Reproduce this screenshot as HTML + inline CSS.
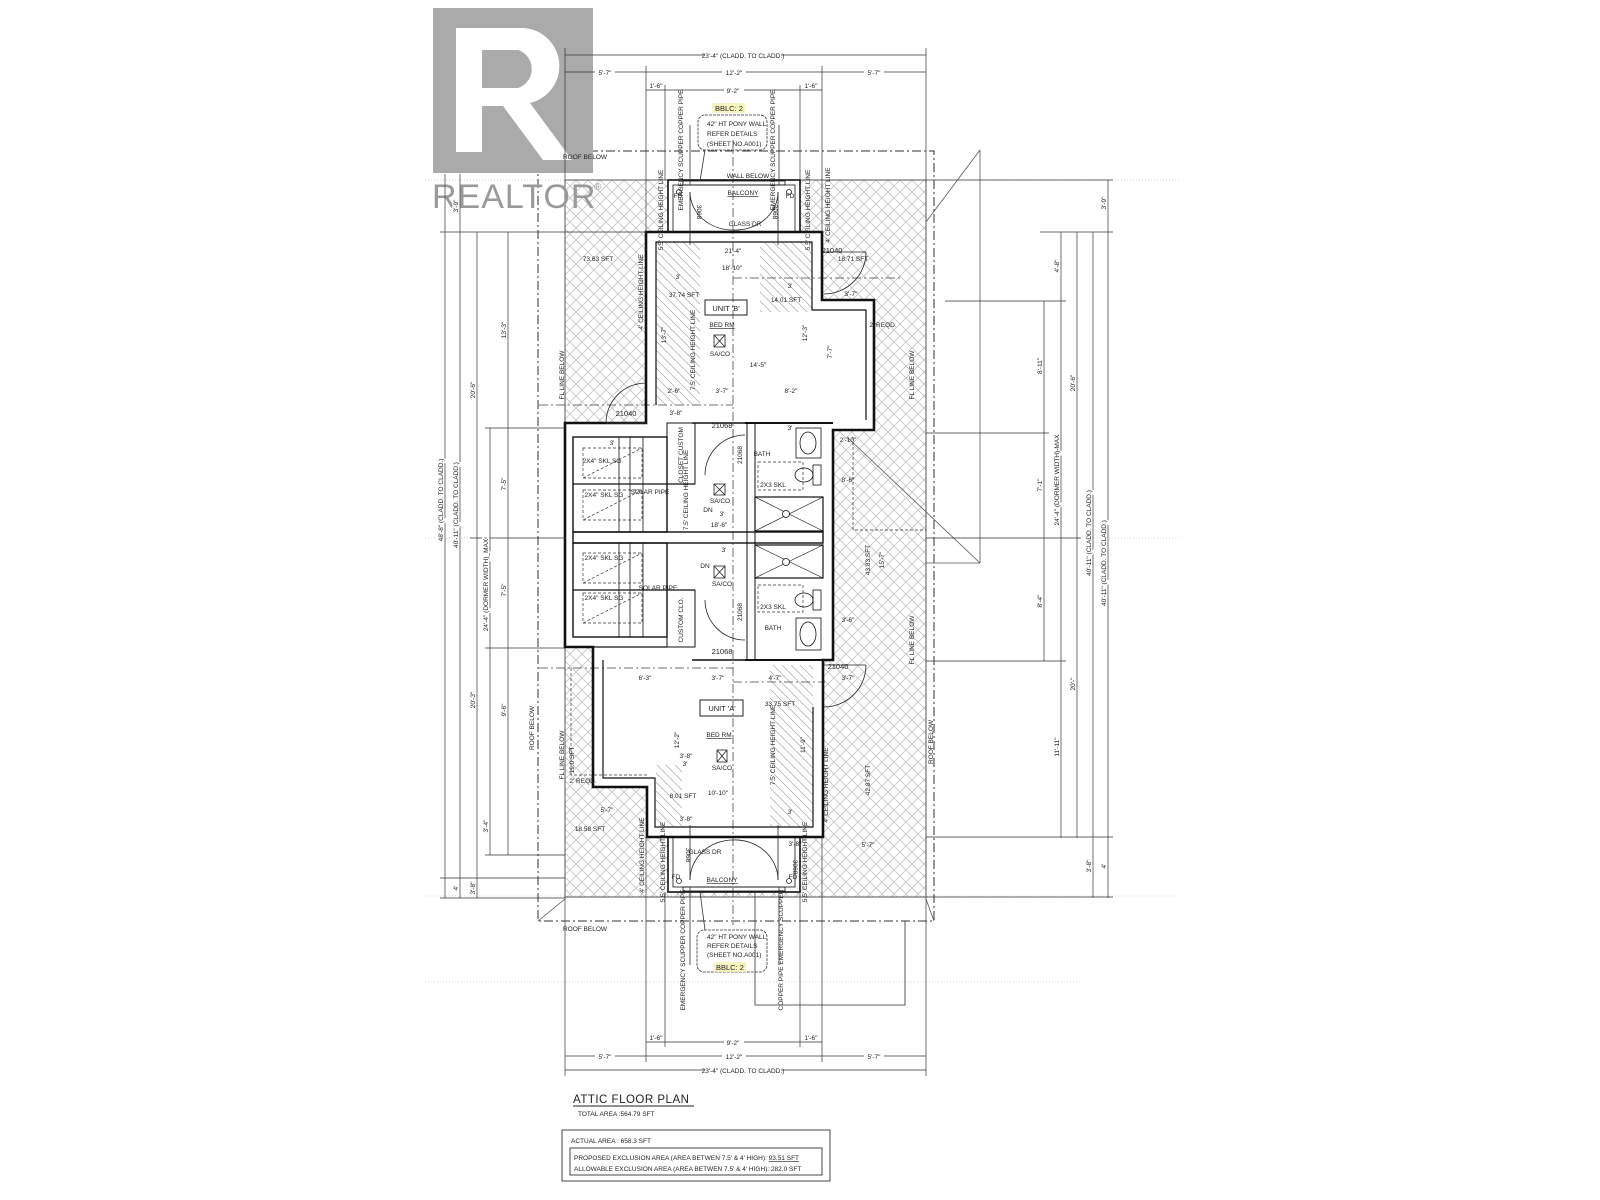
<!DOCTYPE html>
<html><head><meta charset="utf-8"><style>
html,body{margin:0;padding:0;background:#fff;}
svg{display:block;}
text{font-family:"Liberation Sans",sans-serif;fill:#222;}
.s{font-size:6.5px;}
.m{font-size:7.5px;}
</style></head><body>
<svg width="1600" height="1200" viewBox="0 0 1600 1200" xmlns="http://www.w3.org/2000/svg">
<defs>
<pattern id="xh" width="12" height="12" patternUnits="userSpaceOnUse">
<path d="M0,0 L12,12 M12,0 L0,12" stroke="#b8b8b8" stroke-width="0.7"/>
</pattern>
<pattern id="sh" width="9" height="9" patternUnits="userSpaceOnUse">
<path d="M0,0 L9,9 M-1,8 L1,10 M8,-1 L10,1" stroke="#aaa" stroke-width="0.7"/>
</pattern>
</defs>
<rect width="1600" height="1200" fill="#fff"/>

<g stroke="#ccc" stroke-width="0.8" stroke-dasharray="1 2">
<line x1="425" y1="180" x2="1180" y2="180"/>
<line x1="425" y1="538" x2="1180" y2="538"/>
<line x1="425" y1="896" x2="1180" y2="896"/>
<line x1="425" y1="982" x2="1080" y2="982"/>
</g>

<rect x="565" y="180" width="361" height="717" fill="url(#xh)" stroke="#555" stroke-width="1"/>
<polygon points="646,232 822,232 822,300 874,300 874,430 833,430 833,660 823,660 823,837 647,837 647,787 593,787 593,647 565,647 565,423 646,423" fill="#fff"/>
<rect x="668" y="180" width="132" height="52" fill="#fff"/>
<rect x="668" y="837" width="132" height="55" fill="#fff"/>

<g fill="url(#sh)">
<rect x="656" y="242" width="44" height="163"/>
<rect x="760" y="242" width="52" height="70"/>
<rect x="656" y="765" width="26" height="62"/>
<rect x="770" y="665" width="43" height="162"/>
</g>

<rect x="538" y="151" width="396" height="770" fill="none" stroke="#333" stroke-width="1" stroke-dasharray="9 3 2 3"/>
<line x1="733" y1="140" x2="733" y2="925" stroke="#444" stroke-width="0.8" stroke-dasharray="9 3 2 3"/>
<line x1="733" y1="278" x2="900" y2="278" stroke="#444" stroke-width="0.8" stroke-dasharray="9 3 2 3"/>
<line x1="539" y1="405" x2="733" y2="405" stroke="#444" stroke-width="0.8" stroke-dasharray="9 3 2 3"/>
<line x1="539" y1="668" x2="733" y2="668" stroke="#444" stroke-width="0.8" stroke-dasharray="9 3 2 3"/>
<line x1="733" y1="682" x2="825" y2="682" stroke="#444" stroke-width="0.8" stroke-dasharray="9 3 2 3"/>

<g stroke="#555" stroke-width="0.8" fill="none">
<line x1="926" y1="222" x2="980" y2="150"/>
<line x1="980" y1="150" x2="980" y2="563"/>
<line x1="926" y1="563" x2="980" y2="563"/>
<line x1="847" y1="437" x2="980" y2="563"/>
<line x1="538" y1="921" x2="565" y2="899"/>
<line x1="934" y1="921" x2="926" y2="899"/>
</g>

<g fill="none" stroke="#111">
<polygon points="646,232 822,232 822,300 874,300 874,430 833,430 833,660 823,660 823,837 647,837 647,787 593,787 593,647 565,647 565,423 646,423" stroke-width="2.6"/>
<polyline points="656,405 656,242 812,242 812,310 866,310 866,420" stroke-width="1.2"/>
<polyline points="603,660 603,778 655,778 655,827 813,827 813,707" stroke-width="1.2"/>
<rect x="668" y="180" width="132" height="52" stroke-width="1.6"/>
<rect x="673" y="185" width="122" height="47" stroke-width="0.8"/>
<rect x="668" y="837" width="132" height="55" stroke-width="1.6"/>
<rect x="673" y="837" width="122" height="50" stroke-width="0.8"/>
<rect x="683" y="181" width="102" height="4" stroke-width="0.8"/>
<rect x="683" y="887" width="102" height="4" stroke-width="0.8"/>
<rect x="573" y="437" width="94" height="95" stroke-width="1.4"/>
<rect x="573" y="543" width="94" height="94" stroke-width="1.4"/>
<rect x="573" y="532" width="250" height="11" stroke-width="1.4"/>
<line x1="619" y1="437" x2="619" y2="532" stroke-width="0.8"/>
<line x1="630" y1="437" x2="630" y2="532" stroke-width="0.8"/>
<line x1="643" y1="437" x2="643" y2="532" stroke-width="0.8"/>
<line x1="619" y1="543" x2="619" y2="637" stroke-width="0.8"/>
<line x1="630" y1="543" x2="630" y2="637" stroke-width="0.8"/>
<line x1="643" y1="543" x2="643" y2="637" stroke-width="0.8"/>
<line x1="573" y1="484" x2="695" y2="484" stroke-width="1.2"/>
<line x1="573" y1="590" x2="695" y2="590" stroke-width="1.2"/>
<rect x="667" y="423" width="28" height="61" stroke-width="1"/>
<rect x="667" y="590" width="28" height="57" stroke-width="1"/>
<line x1="565" y1="647" x2="667" y2="647" stroke-width="1.2"/>
<rect x="747" y="423" width="8" height="237" stroke-width="1"/>
<line x1="745" y1="423" x2="833" y2="423" stroke-width="2"/>
<line x1="745" y1="660" x2="823" y2="660" stroke-width="2"/>
<line x1="692" y1="423" x2="745" y2="423" stroke-width="1.5"/>
<line x1="692" y1="660" x2="745" y2="660" stroke-width="1.5"/>
<rect x="755" y="497" width="68" height="34" stroke-width="1.2"/>
<path d="M755,497 L823,531 M823,497 L755,531" stroke-width="0.6"/>
<circle cx="786" cy="514" r="3.5" fill="#fff" stroke-width="0.8"/>
<rect x="755" y="545" width="68" height="33" stroke-width="1.2"/>
<path d="M755,545 L823,578 M823,545 L755,578" stroke-width="0.6"/>
<circle cx="786" cy="562" r="3.5" fill="#fff" stroke-width="0.8"/>
<rect x="796" y="428" width="25" height="30" stroke-width="0.8"/>
<ellipse cx="808" cy="443" rx="8" ry="11" stroke-width="0.8"/>
<rect x="796" y="618" width="25" height="32" stroke-width="0.8"/>
<ellipse cx="808" cy="634" rx="8" ry="12" stroke-width="0.8"/>
<ellipse cx="804" cy="475" rx="9" ry="7" stroke-width="0.8"/>
<rect x="813" y="465" width="8" height="20" stroke-width="0.8"/>
<ellipse cx="804" cy="600" rx="9" ry="7" stroke-width="0.8"/>
<rect x="813" y="590" width="8" height="20" stroke-width="0.8"/>
</g>
<g fill="none" stroke="#333" stroke-width="0.7" stroke-dasharray="3 2">
<rect x="583" y="448" width="59" height="30"/>
<rect x="583" y="490" width="59" height="30"/>
<rect x="583" y="553" width="59" height="30"/>
<rect x="583" y="593" width="59" height="30"/>
<rect x="758" y="462" width="45" height="28"/>
<rect x="758" y="585" width="45" height="27"/>
<path d="M583,478 L642,448 M583,520 L642,490 M583,583 L642,553 M583,623 L642,593"/>
<polyline points="571,668 571,775 647,775"/>
<polyline points="853,437 853,530 926,530"/>
</g>

<g fill="none" stroke="#222" stroke-width="0.8">
<path d="M606,423 A40,40 0 0 1 646,383"/>
<line x1="606" y1="423" x2="646" y2="423" stroke-width="2"/>
<path d="M822,252 L866,252 M866,252 A42,42 0 0 1 824,294"/>
<path d="M823,665 L866,665 M866,665 A42,42 0 0 1 824,707"/>
<path d="M745,435 A40,40 0 0 0 705,475"/>
<path d="M745,640 A40,40 0 0 1 705,600"/>
<path d="M690,192 A43,38 0 0 0 733,230"/>
<path d="M778,192 A43,38 0 0 1 733,230"/>
<path d="M690,880 A43,40 0 0 1 733,840"/>
<path d="M778,880 A43,40 0 0 0 733,840"/>
<line x1="690" y1="192" x2="690" y2="245"/>
<line x1="778" y1="192" x2="778" y2="245"/>
<line x1="690" y1="825" x2="690" y2="880"/>
<line x1="778" y1="825" x2="778" y2="880"/>
<circle cx="679" cy="192" r="2.5"/><circle cx="789" cy="192" r="2.5"/>
<circle cx="679" cy="881" r="2.5"/><circle cx="789" cy="881" r="2.5"/>
<rect x="714" y="484" width="11" height="11"/><path d="M714,484 L725,495 M725,484 L714,495"/>
<rect x="714" y="566" width="11" height="12"/><path d="M714,566 L725,578 M725,566 L714,578"/>
<rect x="714" y="335" width="11" height="12"/><path d="M714,335 L725,347 M725,335 L714,347"/>
<rect x="717" y="750" width="10" height="12"/><path d="M717,750 L727,762 M727,750 L717,762"/>
<rect x="705" y="300" width="42" height="15" stroke-width="1"/>
<rect x="700" y="700" width="43" height="16" stroke-width="1"/>
</g>

<g fill="none" stroke="#333" stroke-width="0.8">
<line x1="690" y1="125" x2="690" y2="185"/><line x1="779" y1="125" x2="779" y2="185"/>
<line x1="690" y1="887" x2="690" y2="965"/><line x1="779" y1="887" x2="779" y2="965"/>
<line x1="705" y1="150" x2="700" y2="181"/>
<line x1="705" y1="930" x2="700" y2="892"/>
<polyline points="755,892 755,1005 905,1005 905,921"/>
<rect x="698" y="115" width="69" height="35" rx="7" stroke-dasharray="3 1"/>
<rect x="697" y="930" width="70" height="42" rx="7" stroke-dasharray="3 1"/>
</g>
<rect x="712" y="103" width="33" height="10" fill="#f7f2b0" opacity="0.8"/>
<rect x="713" y="962" width="33" height="10" fill="#f7f2b0" opacity="0.8"/>
<text class="m" x="715" y="111">BBLC: 2</text>
<text class="m" x="716" y="970">BBLC: 2</text>
<text class="s" x="707" y="126">42" HT PONY WALL</text>
<text class="s" x="707" y="136">REFER DETAILS</text>
<text class="s" x="707" y="146">(SHEET NO.A001)</text>
<text class="s" x="707" y="939">42" HT PONY WALL</text>
<text class="s" x="707" y="948">REFER DETAILS</text>
<text class="s" x="707" y="957">(SHEET NO.A001)</text>

<rect x="433" y="8" width="160" height="165" fill="#aaa"/>
<path fill="#fff" fill-rule="evenodd" d="M456,28 H522 A38,38 0 0 1 530,103 L572,160 H543 L503,106 H482 V152 H456 Z M482,50 H518 A20,20 0 0 1 518,88 H482 Z"/>
<text x="432" y="208" style="font-size:34px;fill:#9a9a9a;letter-spacing:1px">REALTOR</text>
<text x="594" y="190" style="font-size:10px;fill:#9a9a9a">®</text>

<g stroke="#333" stroke-width="0.7">
<line x1="565" y1="55" x2="926" y2="55"/>
<line x1="565" y1="72" x2="926" y2="72"/>
<line x1="646" y1="90" x2="822" y2="90"/>
<line x1="565" y1="48" x2="565" y2="180"/>
<line x1="926" y1="48" x2="926" y2="180"/>
<line x1="646" y1="66" x2="646" y2="232"/>
<line x1="822" y1="66" x2="822" y2="232"/>
<line x1="665" y1="85" x2="665" y2="180"/>
<line x1="800" y1="85" x2="800" y2="180"/>
<line x1="565" y1="1076" x2="565" y2="897"/>
<line x1="926" y1="1076" x2="926" y2="897"/>
<line x1="646" y1="1062" x2="646" y2="837"/>
<line x1="822" y1="1062" x2="822" y2="837"/>
<line x1="665" y1="1047" x2="665" y2="892"/>
<line x1="800" y1="1047" x2="800" y2="892"/>
<line x1="565" y1="1070" x2="926" y2="1070"/>
<line x1="565" y1="1056" x2="926" y2="1056"/>
<line x1="646" y1="1042" x2="822" y2="1042"/>
</g>
<g class="s" text-anchor="middle">
<rect x="705" y="50" width="76" height="9" fill="#fff"/>
<text x="743" y="58">23'-4" (CLADD. TO CLADD.)</text>
<rect x="595" y="67" width="20" height="9" fill="#fff"/><text x="605" y="75">5'-7"</text>
<rect x="722" y="67" width="24" height="9" fill="#fff"/><text x="734" y="75">12'-2"</text>
<rect x="864" y="67" width="20" height="9" fill="#fff"/><text x="874" y="75">5'-7"</text>
<text x="656" y="88">1'-6"</text>
<rect x="724" y="85" width="20" height="9" fill="#fff"/><text x="733" y="93">9'-2"</text>
<text x="811" y="88">1'-6"</text>
<text x="656" y="1040">1'-6"</text>
<rect x="724" y="1037" width="20" height="9" fill="#fff"/><text x="733" y="1045">9'-2"</text>
<text x="811" y="1040">1'-6"</text>
<rect x="595" y="1051" width="20" height="9" fill="#fff"/><text x="605" y="1059">5'-7"</text>
<rect x="722" y="1051" width="24" height="9" fill="#fff"/><text x="734" y="1059">12'-2"</text>
<rect x="864" y="1051" width="20" height="9" fill="#fff"/><text x="874" y="1059">5'-7"</text>
<rect x="705" y="1065" width="76" height="9" fill="#fff"/>
<text x="743" y="1073">23'-4" (CLADD. TO CLADD.)</text>
</g>

<g stroke="#333" stroke-width="0.7">
<line x1="445" y1="174" x2="445" y2="898"/>
<line x1="460" y1="174" x2="460" y2="898"/>
<line x1="477" y1="232" x2="477" y2="898"/>
<line x1="490" y1="428" x2="490" y2="855"/>
<line x1="508" y1="232" x2="508" y2="855"/>
<line x1="440" y1="232" x2="646" y2="232"/>
<line x1="485" y1="428" x2="565" y2="428"/>
<line x1="470" y1="538" x2="565" y2="538"/>
<line x1="485" y1="648" x2="565" y2="648"/>
<line x1="485" y1="855" x2="565" y2="855"/>
<line x1="440" y1="878" x2="565" y2="878"/>
<line x1="440" y1="898" x2="565" y2="898"/>
<line x1="1040" y1="232" x2="1113" y2="232"/>
<line x1="926" y1="180" x2="1113" y2="180"/>
<line x1="945" y1="301" x2="1066" y2="301"/>
<line x1="926" y1="433" x2="1049" y2="433"/>
<line x1="926" y1="538" x2="1081" y2="538"/>
<line x1="926" y1="661" x2="1066" y2="661"/>
<line x1="926" y1="837" x2="1113" y2="837"/>
<line x1="926" y1="897" x2="1113" y2="897"/>
<line x1="1044" y1="301" x2="1044" y2="661"/>
<line x1="1061" y1="232" x2="1061" y2="838"/>
<line x1="1077" y1="232" x2="1077" y2="838"/>
<line x1="1093" y1="232" x2="1093" y2="898"/>
<line x1="1108" y1="180" x2="1108" y2="898"/>
</g>
<g class="s" text-anchor="middle" style="paint-order:stroke;stroke:#fff;stroke-width:3px">
<text transform="rotate(-90 458 206)" x="458" y="206">3'-9"</text>
<text transform="rotate(-90 443 500)" x="443" y="500">48'-8" (CLADD. TO CLADD.)</text>
<text transform="rotate(-90 458 505)" x="458" y="505">40'-11" (CLADD. TO CLADD.)</text>
<text transform="rotate(-90 475 390)" x="475" y="390">20'-6"</text>
<text transform="rotate(-90 475 700)" x="475" y="700">20'-3"</text>
<text transform="rotate(-90 488 585)" x="488" y="585">24'-4" (DORMER WIDTH)_MAX</text>
<text transform="rotate(-90 506 330)" x="506" y="330">13'-3"</text>
<text transform="rotate(-90 506 484)" x="506" y="484">7'-5"</text>
<text transform="rotate(-90 506 590)" x="506" y="590">7'-5"</text>
<text transform="rotate(-90 506 710)" x="506" y="710">9'-6"</text>
<text transform="rotate(-90 488 826)" x="488" y="826">3'-4"</text>
<text transform="rotate(-90 458 888)" x="458" y="888">4'</text>
<text transform="rotate(-90 475 888)" x="475" y="888">3'-8"</text>
<text transform="rotate(-90 1106 203)" x="1106" y="203">3'-9"</text>
<text transform="rotate(-90 1059 266)" x="1059" y="266">4'-8"</text>
<text transform="rotate(-90 1042 366)" x="1042" y="366">8'-11"</text>
<text transform="rotate(-90 1075 383)" x="1075" y="383">20'-6"</text>
<text transform="rotate(-90 1042 485)" x="1042" y="485">7'-1"</text>
<text transform="rotate(-90 1059 480)" x="1059" y="480">24'-4" (DORMER WIDTH)-MAX</text>
<text transform="rotate(-90 1091 533)" x="1091" y="533">40'-11" (CLADD. TO CLADD.)</text>
<text transform="rotate(-90 1106 563)" x="1106" y="563">40'-11" (CLADD. TO CLADD.)</text>
<text transform="rotate(-90 1042 601)" x="1042" y="601">8'-4"</text>
<text transform="rotate(-90 1075 684)" x="1075" y="684">20'-"</text>
<text transform="rotate(-90 1059 747)" x="1059" y="747">11'-11"</text>
<text transform="rotate(-90 1091 866)" x="1091" y="866">3'-8"</text>
<text transform="rotate(-90 1106 866)" x="1106" y="866">4'</text>
</g>

<g class="s" text-anchor="middle">
<text x="585" y="159">ROOF BELOW</text>
<text x="585" y="931">ROOF BELOW</text>
<text x="748" y="178">WALL BELOW</text>
<text x="743" y="195" style="text-decoration:underline">BALCONY</text>
<text x="745" y="226">GLASS DR</text>
<text x="722" y="882" style="text-decoration:underline">BALCONY</text>
<text x="705" y="854">GLASS DR</text>
<text transform="rotate(90 697 212)" x="697" y="212">3068</text>
<text transform="rotate(90 773 212)" x="773" y="212">3068</text>
<text transform="rotate(90 686 855)" x="686" y="855">3068</text>
<text transform="rotate(90 793 867)" x="793" y="867">3068</text>
<text transform="rotate(-90 663 210)" x="663" y="210">5.5' CEILING HEIGHT LINE</text>
<text transform="rotate(-90 810 210)" x="810" y="210">5.5' CEILING HEIGHT LINE</text>
<text transform="rotate(-90 830 205)" x="830" y="205">4' CEILING HEIGHT LINE</text>
<text transform="rotate(-90 643 292)" x="643" y="292">4' CEILING HEIGHT LINE</text>
<text transform="rotate(-90 695 350)" x="695" y="350">7.5' CEILING HEIGHT LINE</text>
<text transform="rotate(-90 688 490)" x="688" y="490">7.5' CEILING HEIGHT LINE</text>
<text transform="rotate(-90 775 745)" x="775" y="745">7.5' CEILING HEIGHT LINE</text>
<text transform="rotate(-90 828 785)" x="828" y="785">4' CEILING HEIGHT LINE</text>
<text transform="rotate(-90 644 855)" x="644" y="855">4' CEILING HEIGHT LINE</text>
<text transform="rotate(-90 665 862)" x="665" y="862">5.5' CEILING HEIGHT LINE</text>
<text transform="rotate(-90 807 862)" x="807" y="862">5.5' CEILING HEIGHT LINE</text>
<text transform="rotate(-90 564 375)" x="564" y="375">FL LINE BELOW</text>
<text transform="rotate(-90 914 375)" x="914" y="375">FL LINE BELOW</text>
<text transform="rotate(-90 564 755)" x="564" y="755">FL LINE BELOW</text>
<text transform="rotate(-90 914 640)" x="914" y="640">FL LINE BELOW</text>
<text transform="rotate(-90 534 728)" x="534" y="728">ROOF BELOW</text>
<text transform="rotate(-90 933 742)" x="933" y="742">ROOF BELOW</text>
<text transform="rotate(-90 870 780)" x="870" y="780">42.87 SFT</text>
<text transform="rotate(-90 870 560)" x="870" y="560">43.83 SFT</text>
<text transform="rotate(-90 884 560)" x="884" y="560">15'-7"</text>
<text transform="rotate(-90 683 455)" x="683" y="455">CLOSET CUSTOM</text>
<text transform="rotate(-90 683 620)" x="683" y="620">CUSTOM CLO.</text>
<text transform="rotate(-90 742 455)" x="742" y="455">21068</text>
<text transform="rotate(-90 742 612)" x="742" y="612">21068</text>
<text x="598" y="261">73.63 SFT</text>
<text x="733" y="253">21'-4"</text>
<text x="732" y="270">18'-10"</text>
<text x="678" y="279">3'</text>
<text x="684" y="297">37.74 SFT</text>
<text x="726" y="311" class="m">UNIT 'B'</text>
<text x="722" y="327" style="text-decoration:underline">BED RM</text>
<text x="720" y="356">SA/CO</text>
<text x="790" y="288">3'</text>
<text x="786" y="302">14.01 SFT</text>
<text x="832" y="253" class="m">21040</text>
<text x="853" y="261">18.71 SFT</text>
<text x="851" y="296">3'-7"</text>
<text x="883" y="327">2' REQD.</text>
<text x="758" y="367">14'-5"</text>
<text x="674" y="393">2'-6"</text>
<text x="722" y="393">3'-7"</text>
<text x="791" y="393">8'-2"</text>
<text transform="rotate(-90 666 335)" x="666" y="335">13'-7"</text>
<text transform="rotate(-90 807 333)" x="807" y="333">12'-3"</text>
<text transform="rotate(-90 832 352)" x="832" y="352">7'-7"</text>
<text x="626" y="416" class="m">21040</text>
<text x="676" y="415">3'-8"</text>
<text x="722" y="428" class="m">21068</text>
<text x="722" y="654" class="m">21068</text>
<text x="612" y="445">3'</text>
<text x="602" y="463">2X4" SKL SG</text>
<text x="604" y="497">2X4" SKL SG</text>
<text x="604" y="560">2X4" SKL SG</text>
<text x="604" y="600">2X4" SKL SG</text>
<text x="650" y="494">SOLAR PIPE</text>
<text x="658" y="590">SOLAR PIPE</text>
<text x="708" y="512">DN</text>
<text x="705" y="568">DN</text>
<text x="720" y="503">SA/CO</text>
<text x="722" y="586">SA/CO</text>
<text x="722" y="516">3'</text>
<text x="719" y="527">18'-6"</text>
<text x="724" y="552">3'</text>
<text x="762" y="456">BATH</text>
<text x="773" y="487">2X3 SKL</text>
<text x="773" y="609">2X3 SKL</text>
<text x="773" y="630">BATH</text>
<text x="790" y="430">3'</text>
<text x="848" y="442">2'-10"</text>
<text x="848" y="482">8'-6"</text>
<text x="848" y="622">3'-6"</text>
<text x="645" y="680">6'-3"</text>
<text x="718" y="680">3'-7"</text>
<text x="775" y="680">4'-7"</text>
<text x="848" y="680">3'-7"</text>
<text x="838" y="669" class="m">21040</text>
<text x="780" y="706">33.75 SFT</text>
<text x="722" y="711" class="m">UNIT 'A'</text>
<text x="719" y="737" style="text-decoration:underline">BED RM</text>
<text x="722" y="770">SA/CO</text>
<text transform="rotate(-90 679 740)" x="679" y="740">12'-2"</text>
<text transform="rotate(-90 805 745)" x="805" y="745">11'-9"</text>
<text x="686" y="758">3'-8"</text>
<text x="685" y="766">3'</text>
<text x="683" y="798">8.01 SFT</text>
<text x="718" y="795">10'-10"</text>
<text x="686" y="821">3'-8"</text>
<text x="790" y="814">3'</text>
<text x="795" y="846">3'-8"</text>
<text x="868" y="847">5'-7"</text>
<text x="607" y="812">5'-7"</text>
<text x="590" y="831">18.58 SFT</text>
<text x="583" y="783">2' REQD.</text>
<text transform="rotate(-90 574 760)" x="574" y="760">19.0 SFT</text>
<text x="678" y="198">FD</text><text x="790" y="198">FD</text>
<text x="676" y="879">FD</text><text x="793" y="879">FD</text>
<text transform="rotate(-90 683 150)" x="683" y="150">EMERGENCY SCUPPER COPPER PIPE</text>
<text transform="rotate(-90 775 150)" x="775" y="150">EMERGENCY SCUPPER COPPER PIPE</text>
<text transform="rotate(-90 685 950)" x="685" y="950">EMERGENCY SCUPPER COPPER PIPE</text>
<text transform="rotate(-90 783 950)" x="783" y="950">COPPER PIPE EMERGENCY SCUPPER</text>
</g>

<text x="573" y="1103" style="font-size:11.5px;letter-spacing:0.5px">ATTIC  FLOOR  PLAN</text>
<line x1="573" y1="1106" x2="694" y2="1106" stroke="#222" stroke-width="0.9"/>
<text x="578" y="1116" class="s">TOTAL  AREA :564.79 SFT</text>
<rect x="562" y="1130" width="268" height="51" fill="none" stroke="#333" stroke-width="0.9"/>
<text x="571" y="1143" class="s">ACTUAL AREA : 658.3 SFT</text>
<rect x="570" y="1148" width="252" height="27" fill="none" stroke="#333" stroke-width="0.9"/>
<text x="574" y="1160" class="s">PROPOSED  EXCLUSION  AREA   (AREA BETWEN  7.5'  &amp;   4' HIGH):  <tspan style="text-decoration:underline">93.51 SFT</tspan></text>
<text x="574" y="1171" class="s">ALLOWABLE  EXCLUSION  AREA   (AREA BETWEN  7.5'  &amp;   4' HIGH):  282.0 SFT</text>
</svg>
</body></html>
